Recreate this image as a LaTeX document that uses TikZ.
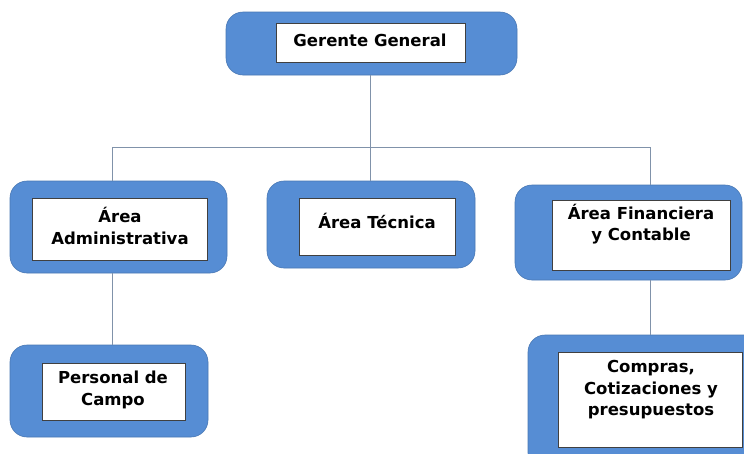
\documentclass[tikz,border=0pt]{standalone}
\usepackage{fontspec}
\setmainfont{DejaVu Sans}
\usepackage{tikz}
\definecolor{boxblue}{RGB}{86,141,212}
\definecolor{linkgray}{RGB}{128,146,170}
\tikzset{
    outerbox/.style={rectangle, rounded corners=17pt, fill=boxblue, draw=boxblue!85!black, line width=0.6pt, inner sep=0pt},
    innerbox/.style={rectangle, fill=white, draw=black!75, line width=1pt, inner sep=0pt},
    boxtext/.style={align=center, inner sep=0pt, font=\fontsize{16.5}{21.5}\selectfont\bfseries, text=black},
    link/.style={draw=linkgray, line width=1pt}
}

\begin{document}
\begin{tikzpicture}[x=1pt, y=-1pt]
                \useasboundingbox (0,0) rectangle (744,453);
                \clip (0,0) rectangle (744,453);
                \fill[white] (0,0) rectangle (744,453);

                % boxes
                \node[outerbox, minimum width=291pt, minimum height=63pt] (gg) at (371.5,43.5) {};
                \node[innerbox, minimum width=189pt, minimum height=39pt] (ggin) at (370.5,42.5) {};
                \node[boxtext] (ggtxt) at (370,40) {Gerente General};

                \node[outerbox, minimum width=217pt, minimum height=92pt] (adm) at (118.5,227) {};
                \node[innerbox, minimum width=175pt, minimum height=62pt] (admin) at (119.5,229) {};
                \node[boxtext] (admtxt) at (120,226) {Área\\Administrativa};

                \node[outerbox, minimum width=208pt, minimum height=87pt] (tec) at (371,224.5) {};
                \node[innerbox, minimum width=156pt, minimum height=57pt] (tecin) at (377,226.5) {};
                \node[boxtext] (tectxt) at (377,221) {Área Técnica};

                \node[outerbox, minimum width=227pt, minimum height=95pt] (fin) at (628.5,232.5) {};
                \node[innerbox, minimum width=178pt, minimum height=70pt] (finin) at (641,235) {};
                \node[boxtext] (fintxt) at (641,224) {Área Financiera\\y Contable};

                \node[outerbox, minimum width=198pt, minimum height=92pt] (pers) at (109,391) {};
                \node[innerbox, minimum width=143pt, minimum height=57pt] (persin) at (113.5,391.5) {};
                \node[boxtext] (perstxt) at (113,390) {Personal de\\Campo};

                \node[outerbox, minimum width=242pt, minimum height=135pt] (comp) at (649,402.5) {};
                \node[innerbox, minimum width=184pt, minimum height=95pt] (compin) at (650,399.5) {};
                \node[boxtext] (comptxt) at (651,390) {Compras,\\Cotizaciones y\\presupuestos};

                % connectors
                \coordinate (busL) at (112,147);
                \coordinate (busM) at (370,147);
                \coordinate (busR) at (650,147);
                \draw[link] (gg.south -| busM) -- (busM);
                \draw[link] (busL) -- (busR);
                \draw[link] (busL) -- (busL |- adm.north);
                \draw[link] (busM) -- (busM |- tec.north);
                \draw[link] (busR) -- (busR |- fin.north);
                \draw[link] (adm.south -| busL) -- (busL |- pers.north);
                \draw[link] (fin.south -| busR) -- (busR |- comp.north);
            \end{tikzpicture}
\end{document}
